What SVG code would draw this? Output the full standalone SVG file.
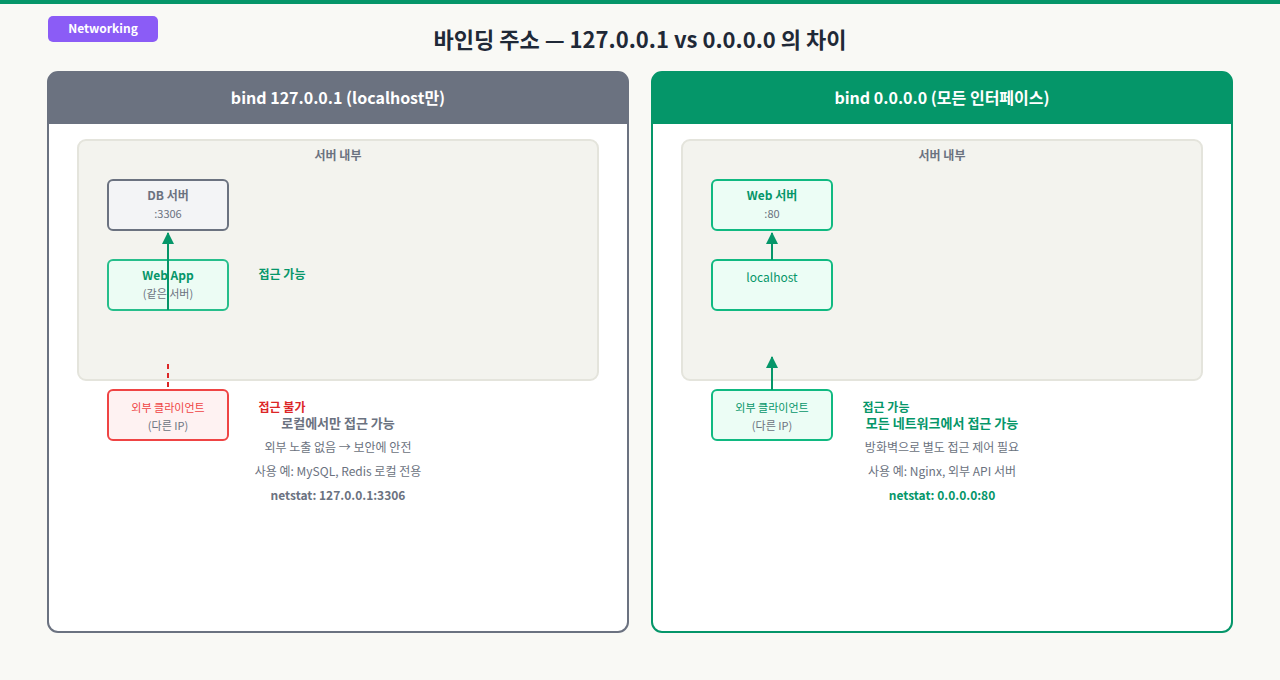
<svg xmlns="http://www.w3.org/2000/svg" width="1280" height="680" viewBox="0 0 1280 680">
<style>
text{font-family:"Noto Sans CJK KR","Noto Sans",sans-serif;text-anchor:middle}
.b{font-weight:700}
.g{fill:#059669}.gr{fill:#6b7280}.r{fill:#dc2626}
.node{stroke-width:2;rx:6}
</style>
<defs>
<marker id="ag" viewBox="0 0 10 10" refX="9" refY="5" markerWidth="4" markerHeight="5" orient="auto" markerUnits="userSpaceOnUse"><path d="M0,0L10,5L0,10z" fill="#059669"/></marker>
<marker id="ah" viewBox="0 0 12 12" refX="11" refY="6" markerWidth="12" markerHeight="20" orient="auto" markerUnits="userSpaceOnUse"><path d="M0,0L12,6L0,12z" fill="#059669"/></marker>
</defs>
<rect width="1280" height="680" fill="#f9f9f5"/>
<rect width="1280" height="4" fill="#059669"/>
<g id="badge"><rect x="48" y="16" width="110" height="26" rx="5" fill="#8b5cf6"/><text x="103" y="33" font-size="12" class="b" fill="#fff">Networking</text></g>
<text x="640" y="48" font-size="22" class="b" fill="#1f2937">바인딩 주소 — 127.0.0.1 vs 0.0.0.0 의 차이</text>

<g id="left-panel">
<rect x="48" y="72" width="580" height="560" rx="10" fill="#fff" stroke="#6b7280" stroke-width="2"/>
<path d="M48,124V82a10,10 0 0 1 10-10H618a10,10 0 0 1 10,10V124z" fill="#6b7280"/>
<text x="338" y="104" font-size="16" class="b" fill="#fff">bind 127.0.0.1 (localhost만)</text>
<rect x="78" y="140" width="520" height="240" rx="8" fill="#f3f3ee" stroke="#e4e4dc" stroke-width="2"/>
<text x="338" y="160" font-size="12" class="b gr">서버 내부</text>
</g>
<g id="db"><rect x="108" y="180" width="120" height="50" rx="5" fill="#f3f4f6" stroke="#6b7280" stroke-width="2"/><text x="168" y="200" font-size="12" class="b gr">DB 서버</text><text x="168" y="218" font-size="11" class="gr">:3306</text></g>
<g id="webapp"><rect x="108" y="260" width="120" height="50" rx="5" fill="#ecfdf5" stroke="#10b981" stroke-width="2" opacity="0.9"/><text x="168" y="280" font-size="12" class="b g">Web App</text><text x="168" y="298" font-size="11" class="gr">(같은 서버)</text></g>
<g id="client-l"><rect x="108" y="390" width="120" height="50" rx="5" fill="#fef2f2" stroke="#ef4444" stroke-width="2"/><text x="168" y="412" font-size="11" fill="#ef4444">외부 클라이언트</text><text x="168" y="430" font-size="11" class="gr">(다른 IP)</text></g>
<text x="282" y="279" font-size="12" class="b g">접근 가능</text>
<text x="282" y="412" font-size="12" class="b r">접근 불가</text>
<text x="338" y="428" font-size="13" class="b gr">로컬에서만 접근 가능</text>
<text x="338" y="452" font-size="12" class="gr">외부 노출 없음 → 보안에 안전</text>
<text x="338" y="476" font-size="12" class="gr">사용 예: MySQL, Redis 로컬 전용</text>
<text x="338" y="500" font-size="12" class="b gr">netstat: 127.0.0.1:3306</text>

<g id="right-panel">
<rect x="652" y="72" width="580" height="560" rx="10" fill="#fff" stroke="#059669" stroke-width="2"/>
<path d="M652,124V82a10,10 0 0 1 10-10H1222a10,10 0 0 1 10,10V124z" fill="#059669"/>
<text x="942" y="104" font-size="16" class="b" fill="#fff">bind 0.0.0.0 (모든 인터페이스)</text>
<rect x="682" y="140" width="520" height="240" rx="8" fill="#f3f3ee" stroke="#e4e4dc" stroke-width="2"/>
<text x="942" y="160" font-size="12" class="b gr">서버 내부</text>
</g>
<g id="web"><rect x="712" y="180" width="120" height="50" rx="5" fill="#ecfdf5" stroke="#10b981" stroke-width="2"/><text x="772" y="200" font-size="12" class="b g">Web 서버</text><text x="772" y="218" font-size="11" class="gr">:80</text></g>
<g id="localhost"><rect x="712" y="260" width="120" height="50" rx="5" fill="#ecfdf5" stroke="#10b981" stroke-width="2"/><text x="772" y="282" font-size="12" class="g">localhost</text></g>
<g id="client-r"><rect x="712" y="390" width="120" height="50" rx="5" fill="#ecfdf5" stroke="#10b981" stroke-width="2"/><text x="772" y="412" font-size="11" class="g">외부 클라이언트</text><text x="772" y="430" font-size="11" class="gr">(다른 IP)</text></g>
<text x="886" y="412" font-size="12" class="b g">접근 가능</text>
<text x="942" y="428" font-size="13" class="b g">모든 네트워크에서 접근 가능</text>
<text x="942" y="452" font-size="12" class="gr">방화벽으로 별도 접근 제어 필요</text>
<text x="942" y="476" font-size="12" class="gr">사용 예: Nginx, 외부 API 서버</text>
<text x="942" y="500" font-size="12" class="b g">netstat: 0.0.0.0:80</text>

<g id="connectors" fill="none" stroke-width="2">
<line x1="168" y1="310" x2="168" y2="233" stroke="#059669" marker-end="url(#ah)"/>
<line x1="168" y1="364" x2="168" y2="390" stroke="#dc2626" stroke-dasharray="5,4"/>
<line x1="772" y1="260" x2="772" y2="233" stroke="#059669" marker-end="url(#ah)"/>
<line x1="772" y1="390" x2="772" y2="357" stroke="#059669" marker-end="url(#ah)"/>
</g>
</svg>
